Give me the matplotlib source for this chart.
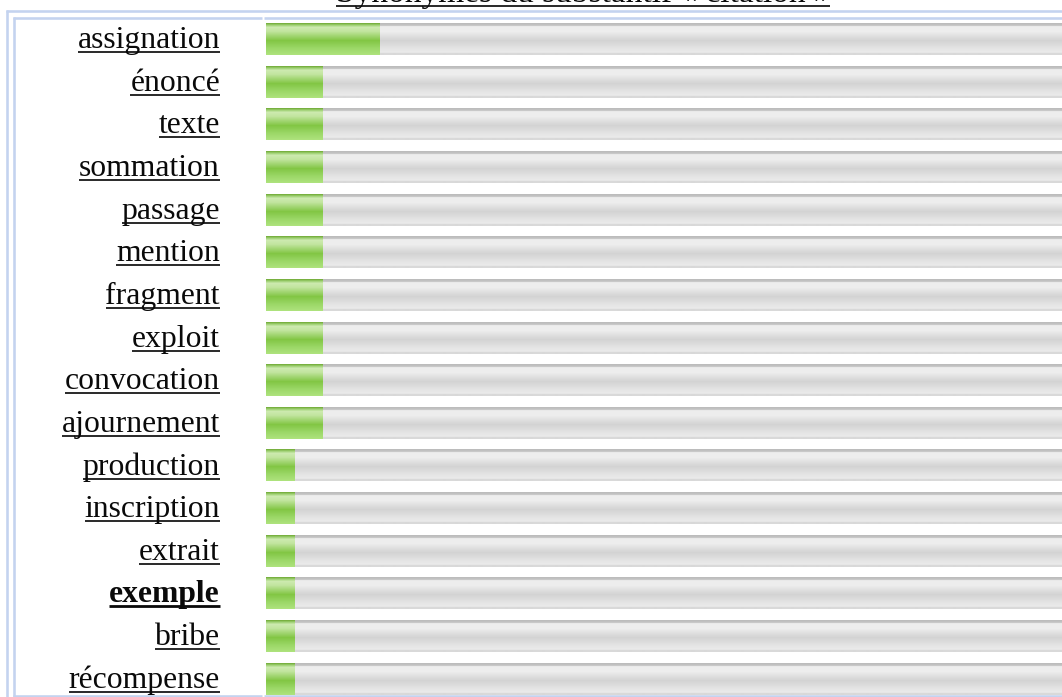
import numpy as np
import matplotlib
matplotlib.use("Agg")
import matplotlib.pyplot as plt
import matplotlib.transforms as mtransforms
from matplotlib.lines import Line2D
from matplotlib.colors import to_rgb

title = "Synonymes du substantif « citation »"
words = ["assignation", "énoncé", "texte", "sommation", "passage", "mention",
         "fragment", "exploit", "convocation", "ajournement", "production",
         "inscription", "extrait", "exemple", "bribe", "récompense"]
scores = [4, 2, 2, 2, 2, 2, 2, 2, 2, 2, 1, 1, 1, 1, 1, 1]
bold_word = "exemple"
scale_max = 28

W, H = 1062, 697
fig = plt.figure(figsize=(W / 100, H / 100), dpi=100)
fig.patch.set_facecolor("white")

pitch = 42.65
top = 39 - pitch / 2
n = len(words)
bottom = top + pitch * n
ax = fig.add_axes([266 / W, 1 - bottom / H, (W - 266) / W, (bottom - top) / H])
ax.axis("off")

def grad(stops, rows=32):
    pos = np.array([p for p, _ in stops])
    cols = np.array([to_rgb(c) for _, c in stops])
    y = np.linspace(0, 1, rows)
    out = np.stack([np.interp(y, pos, cols[:, k]) for k in range(3)], axis=1)
    return out[:, None, :]

grey = grad([(0, "#bcbcbc"), (0.06, "#c4c4c4"), (0.1, "#ededed"), (0.25, "#eeeeee"),
             (0.55, "#d3d3d3"), (0.8, "#e4e4e4"), (0.93, "#ebebeb"), (0.95, "#d9d9d9"), (1, "#d9d9d9")])
green = grad([(0, "#78b040"), (0.05, "#9ccf70"), (0.12, "#cdeab0"), (0.25, "#c2e5a0"),
              (0.55, "#82c644"), (0.8, "#9cd868"), (1, "#ade27c")])

h = 0.75
for i, v in enumerate(scores):
    ax.imshow(grey, extent=(0, scale_max, i + h / 2, i - h / 2), aspect="auto",
              interpolation="bilinear", zorder=1)
    ax.imshow(green, extent=(0, v, i + h / 2, i - h / 2), aspect="auto",
              interpolation="bilinear", zorder=2)
ax.set_xlim(0, (W - 266) / 28.5)
ax.set_ylim(n - 0.5, -0.5)

# borders
bc = "#c4d3ef"
def px_line(xs, ys, lw=2.6):
    fig.add_artist(Line2D([x / W for x in xs], [1 - y / H for y in ys],
                          transform=fig.transFigure, color=bc, lw=lw * 0.72,
                          solid_capstyle="butt"))
px_line([6, W], [11, 11])
px_line([7, 7], [10, H])
px_line([13, 262], [17.5, 17.5])
px_line([264, W], [17.5, 17.5])
px_line([14, 14], [16.5, 697])
px_line([13, 262], [696, 696])
px_line([264, W], [696, 696])

# labels
trans = mtransforms.blended_transform_factory(fig.transFigure, ax.transData)
trans = mtransforms.offset_copy(trans, fig=fig, x=0, y=-9, units="dots")
texts = []
for i, w in enumerate(words):
    t = fig.text(220 / W, i, w, transform=trans, ha="right", va="baseline",
                 family="Liberation Serif", fontsize=22.8,
                 fontweight="bold" if w == bold_word else "normal", color="#0a0a0a")
    texts.append((t, i, w == bold_word))

tt = fig.text(583 / W, 1 - 2 / H, title, ha="center", va="baseline",
              family="Liberation Serif", fontsize=24, color="#0a0a0a")

fig.canvas.draw()
r = fig.canvas.get_renderer()
inv = fig.transFigure.inverted()
for t, i, b in texts:
    bb = t.get_window_extent(r)
    base = trans.transform((0, i))[1]
    yl = base - 4
    p0 = inv.transform((bb.x0, yl)); p1 = inv.transform((bb.x1, yl))
    fig.add_artist(Line2D([p0[0], p1[0]], [p0[1], p1[1]], transform=fig.transFigure,
                          color="#0a0a0a", lw=(2.8 if b else 1.7) * 0.72,
                          solid_capstyle="butt"))
bb = tt.get_window_extent(r)
p0 = inv.transform((bb.x0, H - 5.5)); p1 = inv.transform((bb.x1, H - 5.5))
fig.add_artist(Line2D([p0[0], p1[0]], [p0[1], p1[1]], transform=fig.transFigure,
                      color="#0a0a0a", lw=1.7 * 0.72, solid_capstyle="butt"))

fig.savefig("out.png", dpi=100, facecolor="white")
